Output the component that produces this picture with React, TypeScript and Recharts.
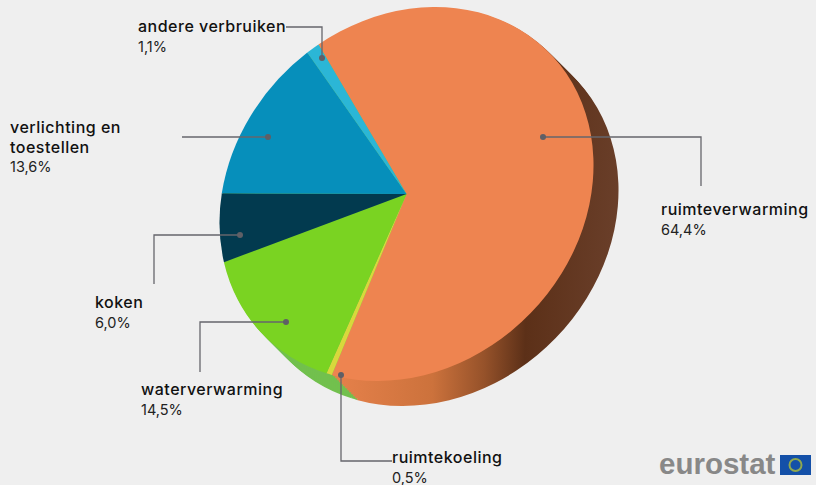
import { PieChart, Pie, Cell, Sector } from "recharts"

const categories = ["ruimteverwarming", "ruimtekoeling", "waterverwarming", "koken", "verlichting en toestellen", "andere verbruiken"]
const shares = [64.4, 0.5, 14.5, 6.0, 13.6, 1.1]
const shareLabels = ["64,4%", "0,5%", "14,5%", "6,0%", "13,6%", "1,1%"]

const topColors = ["#ee8450", "#d8d83c", "#7ad322", "#023a4f", "#068fbb", "#2bb6d6"]
const sideColors = ["url(#sideOrange)", "#72c04e", "#72c04e", "#72c04e", "#72c04e", "#72c04e"]

const pieData = categories.map((name, i) => ({ name, value: shares[i] }))

const WIDTH = 816
const HEIGHT = 485
const CX = 406.5
const CY = 194
const RADIUS = 186
const START = 122.5
const DEPTH_STEPS = [25, 23, 21, 19, 17, 15, 13, 11, 9, 7, 5, 3, 1]

// the original is a tilted 3d pie, so the round pie gets squeezed into an ellipse
const tilt = (cx: number, cy: number) =>
  `translate(${cx} ${cy}) rotate(-45) scale(1.08 0.925) rotate(45) translate(${-cx} ${-cy})`

const tiltedSector = (props: any) => <Sector {...props} transform={tilt(props.cx, props.cy)} />

// leader lines and label placement, one entry per category
const callouts = [
  { path: "M543 137H701V186", dot: [543, 137], x: 661, y: 215, lines: ["ruimteverwarming"] },
  { path: "M341 375V461H392", dot: [341, 375], x: 392, y: 463, lines: ["ruimtekoeling"] },
  { path: "M286 322H200V372", dot: [286, 322], x: 141, y: 395, lines: ["waterverwarming"] },
  { path: "M240 235H154V284", dot: [240, 235], x: 95, y: 308, lines: ["koken"] },
  { path: "M268 137H182", dot: [268, 137], x: 10, y: 133, lines: ["verlichting en", "toestellen"] },
  { path: "M322 58V27H286", dot: [322, 58], x: 138, y: 32, lines: ["andere verbruiken"] },
]

export default function App() {
  return (
    <div style={{ position: "absolute", left: 0, top: 0, width: WIDTH, height: HEIGHT, background: "#efefef", overflow: "hidden" }}>
      <PieChart width={WIDTH} height={HEIGHT} margin={{ top: 0, right: 0, bottom: 0, left: 0 }}>
        <defs>
          <linearGradient id="sideOrange" gradientUnits="userSpaceOnUse" x1="340" y1="0" x2="620" y2="0">
            <stop offset="0%" stopColor="#e8824c" />
            <stop offset="38%" stopColor="#cc723c" />
            <stop offset="56%" stopColor="#96522a" />
            <stop offset="70%" stopColor="#5c3018" />
            <stop offset="100%" stopColor="#6a3f2a" />
          </linearGradient>
          <clipPath id="sideClip">
            <rect x={0} y={0} width={618} height={405} />
          </clipPath>
        </defs>
        <g clipPath="url(#sideClip)">
          {DEPTH_STEPS.map((d) => (
            <Pie
              key={d}
              data={pieData}
              dataKey="value"
              cx={CX + d}
              cy={CY + d}
              outerRadius={RADIUS}
              startAngle={START}
              endAngle={START - 360}
              stroke="none"
              shape={tiltedSector}
              isAnimationActive={false}
            >
              {pieData.map((_, i) => (
                <Cell key={i} fill={sideColors[i]} />
              ))}
            </Pie>
          ))}
        </g>
        <Pie
          data={pieData}
          dataKey="value"
          cx={CX}
          cy={CY}
          outerRadius={RADIUS}
          startAngle={START}
          endAngle={START - 360}
          stroke="none"
          shape={tiltedSector}
          isAnimationActive={false}
        >
          {pieData.map((_, i) => (
            <Cell key={i} fill={topColors[i]} />
          ))}
        </Pie>
      </PieChart>

      <svg width={WIDTH} height={HEIGHT} style={{ position: "absolute", left: 0, top: 0 }} fontFamily="Inter, sans-serif">
        {callouts.map((c, i) => (
          <g key={i}>
            <path d={c.path} fill="none" stroke="#66666c" strokeWidth={1.3} />
            <circle cx={c.dot[0]} cy={c.dot[1]} r={3} fill="#5f5f66" />
            {c.lines.map((line, j) => (
              <text key={j} x={c.x} y={c.y + j * 20} fontSize={16} fontWeight={500} letterSpacing={0.5} fill="#111">
                {line}
              </text>
            ))}
            <text x={c.x} y={c.y + c.lines.length * 19.5} fontSize={14.5} fill="#222">
              {shareLabels[i]}
            </text>
          </g>
        ))}
        <text x={659} y={474} fontFamily="Liberation Sans, sans-serif" fontWeight={700} fontSize={29.5} fill="#888">
          eurostat
        </text>
        <rect x={780} y={455} width={31} height={20} fill="#1450a8" />
        <circle cx={795.5} cy={465} r={6} fill="none" stroke="#8fa850" strokeWidth={2} />
      </svg>
    </div>
  )
}
